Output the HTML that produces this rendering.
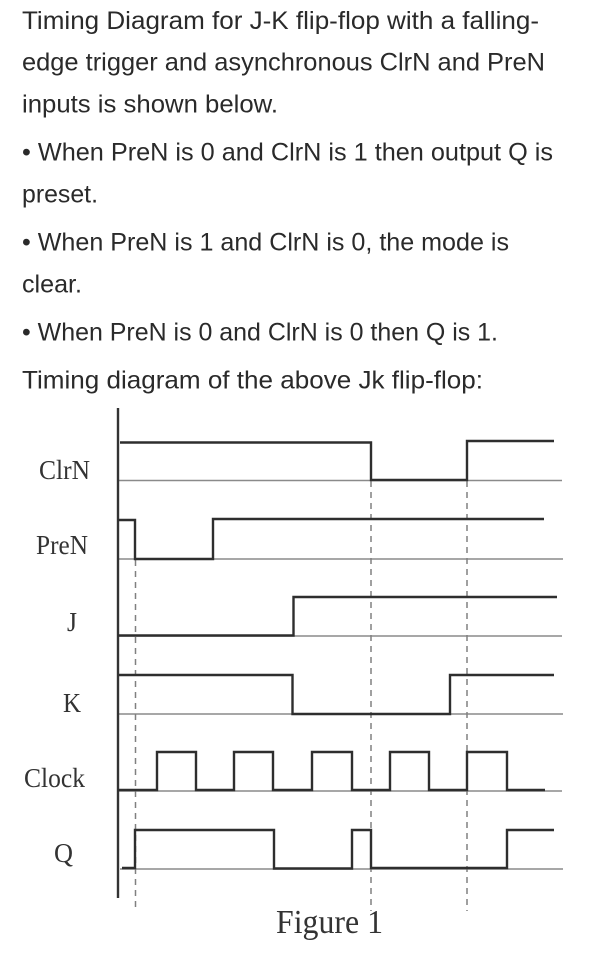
<!DOCTYPE html>
<html><head><meta charset="utf-8">
<style>
html,body{margin:0;padding:0;background:#fff;width:605px;height:959px;overflow:hidden}
svg{display:block}
.t{font-family:"Liberation Sans",sans-serif;font-size:25px;fill:#2a2a2a}
.s{font-family:"Liberation Serif",serif;font-size:27px;fill:#333}
.b{stroke:#8a8a8a;stroke-width:1.5;fill:none}
.d{stroke:#808080;stroke-width:1.5;fill:none;stroke-dasharray:6 5}
.w{stroke:#2e2e2e;stroke-width:2.4;fill:none}
</style></head><body>
<svg width="605" height="959" viewBox="0 0 605 959" xmlns="http://www.w3.org/2000/svg">
<g>
<text class="t" x="22" y="29" textLength="517" lengthAdjust="spacingAndGlyphs">Timing Diagram for J-K flip-flop with a falling-</text>
<text class="t" x="22" y="70.5" textLength="523" lengthAdjust="spacingAndGlyphs">edge trigger and asynchronous ClrN and PreN</text>
<text class="t" x="22" y="112.5" textLength="256" lengthAdjust="spacingAndGlyphs">inputs is shown below.</text>
<text class="t" x="22" y="160.5" textLength="531" lengthAdjust="spacingAndGlyphs">• When PreN is 0 and ClrN is 1 then output Q is</text>
<text class="t" x="22" y="202.5" textLength="76" lengthAdjust="spacingAndGlyphs">preset.</text>
<text class="t" x="22" y="250.5" textLength="487" lengthAdjust="spacingAndGlyphs">• When PreN is 1 and ClrN is 0, the mode is</text>
<text class="t" x="22" y="292.5" textLength="60" lengthAdjust="spacingAndGlyphs">clear.</text>
<text class="t" x="22" y="340.5" textLength="476" lengthAdjust="spacingAndGlyphs">• When PreN is 0 and ClrN is 0 then Q is 1.</text>
<text class="t" x="22" y="388.5" textLength="461" lengthAdjust="spacingAndGlyphs">Timing diagram of the above Jk flip-flop:</text>
</g>
<g>
<path class="b" d="M118 480.5H562M118 559H563M118 636H562M118 714H563M118 791H562M120 869H563"/>
<path class="d" d="M135.5 560V908M371 481V911M467 481V911"/>
<path d="M118 408V898" stroke="#333" stroke-width="2.4" fill="none"/>
<path class="w" d="M120 442.5H371V480H467V441H554"/>
<path class="w" d="M118 520H135V559H213V519H544"/>
<path class="w" d="M118 635.5H293.5V597H557"/>
<path class="w" d="M119 675H292.5V714H450V675H554"/>
<path class="w" d="M118 790H157V752H196V790H234V752H273V790H312V752H352V790H390V752H429V790H467V752H507V790H545"/>
<path class="w" d="M122 868H135V830H274V868.5H352V830H371V868H507V830H554"/>
<text class="s" x="39" y="479" textLength="51" lengthAdjust="spacingAndGlyphs">ClrN</text>
<text class="s" x="36" y="554" textLength="52" lengthAdjust="spacingAndGlyphs">PreN</text>
<text class="s" x="67" y="631" textLength="10" lengthAdjust="spacingAndGlyphs">J</text>
<text class="s" x="63" y="712" textLength="18" lengthAdjust="spacingAndGlyphs">K</text>
<text class="s" x="24" y="787" textLength="61" lengthAdjust="spacingAndGlyphs">Clock</text>
<text class="s" x="54" y="862" textLength="19" lengthAdjust="spacingAndGlyphs">Q</text>
<text class="s" x="276" y="933" style="font-size:34px" textLength="107" lengthAdjust="spacingAndGlyphs">Figure 1</text>
</g>
</svg>
</body></html>
